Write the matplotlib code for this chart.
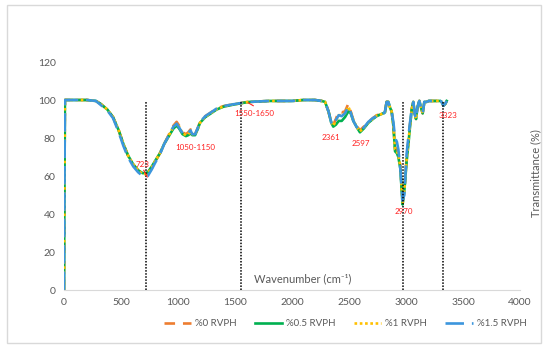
import matplotlib
matplotlib.use("Agg")
import matplotlib.pyplot as plt
from matplotlib.patches import Rectangle
from matplotlib.lines import Line2D

plt.rcParams['font.family'] = ['Lato', 'DejaVu Sans']

wavenumber = [0, 8, 100, 200, 280, 320, 380, 430, 480, 520, 560, 608, 650, 690, 711, 735, 770, 800,
              842, 880, 930, 960, 988, 1010, 1040, 1070, 1090, 1110, 1125, 1150, 1175, 1193, 1240,
              1290, 1339, 1400, 1480, 1544, 1600, 1632, 1700, 1800, 1921, 2000, 2100, 2200, 2260,
              2290, 2320, 2345, 2362, 2385, 2410, 2436, 2465, 2494, 2515, 2538, 2565, 2596, 2630,
              2670, 2710, 2743, 2780, 2800, 2816, 2830, 2845, 2860, 2874, 2890, 2904, 2920, 2933,
              2950, 2970, 2985, 3006, 3020, 3035, 3050, 3064, 3076, 3088, 3100, 3117, 3132, 3146,
              3161, 3180, 3200, 3250, 3300, 3313, 3328, 3345, 3357]

rvph_0 = [0, 100, 100, 100, 99.5, 98, 95, 91, 84, 77, 71, 66, 63, 61, 60.5, 61, 64, 67.5,
          72, 77, 83, 86.5, 88.5, 86.5, 83, 82, 83, 84.5, 82.5, 82, 85.5, 88.5, 91.5,
          93.5, 95.5, 96.8, 97.7, 98.3, 98.9, 99, 99.2, 99.5, 99.5, 99.5, 100, 100, 99.5,
          99, 94, 88, 87, 90, 94, 93.5, 94, 98, 94, 89.5, 86.5, 84, 86, 88.5, 90.5, 92, 92.5,
          93, 94, 99, 99, 96, 94, 86, 75, 74, 72, 66, 46, 52, 70, 78, 87, 95, 99, 93, 90,
          96, 99.5, 96, 93, 99, 99, 99.5, 99.5, 99.5, 99, 97, 98, 99.5]

rvph_05 = [0, 100, 100, 100, 99.5, 98, 95, 91, 84, 77, 71, 66, 63, 61.5, 61.5, 62, 65, 68,
           72, 77, 82, 85, 86.5, 85, 82, 81, 81.5, 82.5, 81.5, 81.5, 85, 88, 91,
           93, 95, 96.5, 97.5, 98.2, 98.8, 99, 99.2, 99.5, 99.5, 99.5, 100, 100, 99.5,
           99, 94, 88, 86, 87, 89, 89, 91, 94, 93, 89, 86, 83, 85, 88, 90, 91.5, 92.5,
           93, 93.5, 99, 99, 96, 94, 86, 73, 72, 70, 64, 45, 52, 68, 76, 86, 95, 99, 93, 90,
           96, 99.5, 96, 93, 99, 99, 99.5, 99.5, 99.5, 99, 97, 98, 99.5]

rvph_1 = [0, 100, 100, 100, 99.5, 98, 95, 91, 84, 77, 71, 66, 63, 61, 61, 61.5, 64.5, 68,
          72, 77, 82.5, 86, 87.5, 86, 82.5, 81.5, 82, 83.5, 82, 82, 85, 88, 91.2,
          93.2, 95.2, 96.6, 97.6, 98.2, 98.8, 99, 99.2, 99.5, 99.5, 99.5, 100, 100, 99.5,
          99, 94, 88, 86.5, 89, 92, 92, 93, 96.5, 93.5, 89.5, 86, 83.5, 85.5, 88.2, 90.2, 91.8, 92.5,
          93, 93.8, 99, 99, 96, 94, 86, 74, 73, 71, 65, 45.5, 52, 69, 77, 86.5, 95, 99, 93, 90,
          96, 99.5, 96, 93, 99, 99, 99.5, 99.5, 99.5, 99, 97, 98, 99.5]

rvph_15 = [0, 100, 100, 100, 99.5, 97.5, 94.5, 90.5, 83, 76, 70, 65, 62, 60, 59.5, 60, 63.5, 67,
           71.5, 77, 82.5, 86, 87.5, 85.5, 82.5, 81.5, 82.5, 84, 82, 82, 85.5, 88.5, 91.5,
           93.5, 95.5, 96.8, 97.7, 98.3, 98.9, 99, 99.2, 99.5, 99.5, 99.5, 100, 100, 99.5,
           99, 94, 88, 86.5, 89.5, 92, 91.5, 93, 96.5, 93.5, 89, 86, 83.5, 85.5, 88.5, 90.5, 91.5, 91.5,
           92.5, 94, 99, 99, 96, 94, 88, 80, 78, 74, 64, 47, 50, 72, 80, 88, 95, 99, 93, 90,
           96, 99.5, 96, 93, 99, 99, 99.5, 99.5, 99.5, 99, 97, 98, 99.5]

series_labels = ["%0 RVPH", "%0.5 RVPH", "%1 RVPH", "%1.5 RVPH"]
marker_positions = [723, 1550, 2970, 3323]
annotations = [("723", 690, 66), ("1050-1150", 1150, 75), ("1550-1650", 1670, 93),
               ("2361", 2342, 80.5), ("2597", 2600, 77), ("2970", 2985, 41.5), ("3323", 3370, 92)]
leader_x = [[700, 730], [1617, 1660]]
leader_y = [[63, 59.5], [98.5, 97]]
x_ticks = [0, 500, 1000, 1500, 2000, 2500, 3000, 3500, 4000]
y_ticks = [0, 20, 40, 60, 80, 100, 120]

fig = plt.figure(figsize=(5.5, 3.51), dpi=100)
fig.patches.append(Rectangle((7/550, 1-343/351), (541-7)/550, (343-5)/351,
                             transform=fig.transFigure, fill=False, edgecolor='#D9D9D9', lw=1))
ax = fig.add_axes([64/550, 1-290/351, (520-64)/550, (290-62)/351])

colors = ['#ED7D31', '#00B050', '#FFC000', '#3C96DD']
styles = [(0, (4, 3)), '-', (0, (1, 1)), (0, (7, 3))]
for ys, c, s, lab in zip([rvph_0, rvph_05, rvph_1, rvph_15], colors, styles, series_labels):
    ax.plot(wavenumber, ys, color=c, linestyle=s, lw=1.9, label=lab, solid_joinstyle='round')

for xm in marker_positions:
    ax.plot([xm, xm], [0, 99], color='black', linestyle=(0, (1, 1)), lw=1.1)

for lx, ly in zip(leader_x, leader_y):
    ax.plot(lx, ly, color='#FF2020', lw=0.8)

for txt, xa, ya in annotations:
    ax.text(xa, ya, txt, color='#FF2020', fontsize=5.8, ha='center', va='center')

ax.set_xlim(0, 4000)
ax.set_ylim(0, 120)
ax.set_xticks(x_ticks)
ax.set_yticks(y_ticks)
ax.tick_params(length=0, labelsize=7.5, labelcolor='#595959', pad=6)
for sp in ['top', 'right', 'left']:
    ax.spines[sp].set_visible(False)
ax.spines['bottom'].set_color('#D9D9D9')

ax.text(2096, 6, "Wavenumber (cm\u207b\u00b9)", fontsize=8, color='#595959', ha='center', va='center')
fig.text(536/550, 1-173/351, "Transmittance (%)", rotation=90, fontsize=8, color='#595959',
         ha='center', va='center')

handles = [Line2D([], [], color=c, linestyle=s, lw=1.9) for c, s in zip(colors, styles)]
fig.legend(handles, series_labels, loc='center', bbox_to_anchor=(345/550, 1-324/351), ncol=4,
           frameon=False, fontsize=7, labelcolor='#595959', handlelength=2.8, columnspacing=1.9,
           handletextpad=0.4)

fig.savefig("out.png", dpi=100)
